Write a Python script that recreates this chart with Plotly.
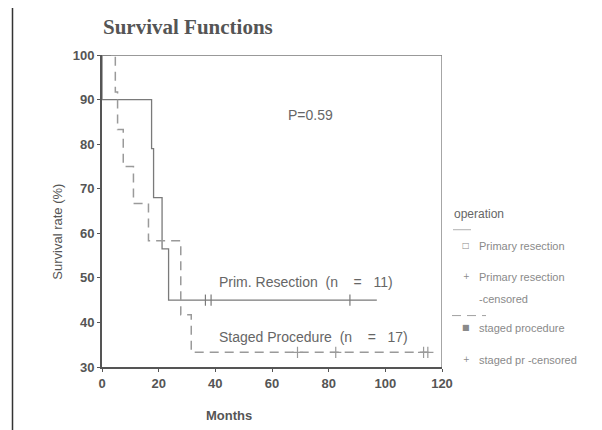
import plotly.graph_objects as go

# ---------------- data ----------------
prim_times = [0, 0, 17.5, 18.2, 21.2, 23.5, 97]
prim_surv = [100, 90, 79, 68, 56.5, 45, 45]
prim_cens_times = [36.5, 38.5, 87.5]
prim_cens_surv = [45, 45, 45]

staged_times = [0, 4.7, 5.5, 7.5, 11.1, 16.4, 27.8, 31.5, 115]
staged_surv = [100, 91.7, 83.3, 75, 66.7, 58.3, 41.7, 33.3, 33.3]
staged_cens_times = [69, 82.5, 113.5, 115]
staged_cens_surv = [33.3, 33.3, 33.3, 33.3]

x_ticks = [0, 20, 40, 60, 80, 100, 120]
y_ticks = [30, 40, 50, 60, 70, 80, 90, 100]

NB = "\u00a0"
title_text = "Survival Functions"
p_text = "P=0.59"
prim_label = "Prim. Resection" + NB * 2 + "(n" + NB * 4 + "=" + NB * 3 + "11)"
staged_label = "Staged Procedure" + NB * 2 + "(n" + NB * 4 + "=" + NB * 3 + "17)"
legend_title = "operation"
legend_items = ["Primary resection", "Primary resection", "-censored",
                "staged procedure", "staged pr -censored"]

# ---------------- layout geometry ----------------
# the page adds an 8px body margin, so the figure is drawn 8px smaller
OFF = 8
W, H = 602 - OFF, 430 - OFF
L = 102 - OFF
T = 55 - OFF
R = W - (442 - OFF)
B = H - (367.5 - OFF)
PW, PH = W - L - R, H - T - B


def px(x):
    return (x - OFF - L) / PW


def py(y):
    return 1 - (y - OFF - T) / PH


SOLID = "#7a7a7a"
DASHED = "#9a9a9a"
TXT = "#555555"
LEG = "#8a8a8a"

fig = go.Figure()
fig.add_trace(go.Scatter(x=prim_times, y=prim_surv, mode="lines",
                         line=dict(color=SOLID, width=1.3, shape="hv"),
                         showlegend=False, hoverinfo="skip"))
fig.add_trace(go.Scatter(x=prim_cens_times, y=prim_cens_surv, mode="markers",
                         marker=dict(symbol="line-ns", size=8,
                                     line=dict(color=SOLID, width=1.2)),
                         showlegend=False, hoverinfo="skip"))
fig.add_trace(go.Scatter(x=staged_times, y=staged_surv, mode="lines",
                         line=dict(color=DASHED, width=1.5, shape="hv",
                                   dash="9px,6px"),
                         showlegend=False, hoverinfo="skip"))
fig.add_trace(go.Scatter(x=staged_cens_times, y=staged_cens_surv, mode="markers",
                         marker=dict(symbol="cross-thin", size=8,
                                     line=dict(color=DASHED, width=1.2)),
                         showlegend=False, hoverinfo="skip"))

shapes = [
    # top and right border of plot frame
    dict(type="line", xref="x", yref="y", x0=0, x1=120, y0=100, y1=100,
         line=dict(color="#777777", width=1.5)),
    dict(type="line", xref="x", yref="y", x0=120, x1=120, y0=30, y1=100,
         line=dict(color="#888888", width=1.5)),
    # outer page frame pieces
    dict(type="line", xref="paper", yref="paper", x0=px(12.5), x1=px(12.5),
         y0=py(6), y1=py(431), line=dict(color="#333333", width=1.5)),
    dict(type="line", xref="paper", yref="paper", x0=px(12), x1=px(16),
         y0=py(6), y1=py(6), line=dict(color="#333333", width=1.5)),
    dict(type="line", xref="paper", yref="paper", x0=px(601), x1=px(601),
         y0=py(6), y1=py(60), line=dict(color="#333333", width=1.5)),
    dict(type="line", xref="paper", yref="paper", x0=px(596), x1=px(602),
         y0=py(6), y1=py(6), line=dict(color="#333333", width=1.5)),
    # legend line samples
    dict(type="line", xref="paper", yref="paper", x0=px(453), x1=px(471),
         y0=py(230), y1=py(230), line=dict(color="#b0b0b0", width=1)),
    dict(type="line", xref="paper", yref="paper", x0=px(452), x1=px(486),
         y0=py(316), y1=py(316), line=dict(color="#a0a0a0", width=1, dash="9px,6px")),
]

ann = []
ann.append(dict(text="<b>" + title_text + "</b>", x=px(101), y=py(27), xref="paper", yref="paper",
                xanchor="left", yanchor="middle", showarrow=False,
                font=dict(family="Liberation Serif", size=21, color=TXT)))
ann.append(dict(text=p_text, x=px(286), y=py(115), xref="paper", yref="paper",
                xanchor="left", yanchor="middle", showarrow=False,
                font=dict(family="Liberation Sans", size=14, color="#666666")))
ann.append(dict(text=prim_label, x=px(217), y=py(282), xref="paper", yref="paper",
                xanchor="left", yanchor="middle", showarrow=False,
                font=dict(family="Liberation Sans", size=14, color="#666666")))
ann.append(dict(text=staged_label, x=px(217), y=py(337), xref="paper", yref="paper",
                xanchor="left", yanchor="middle", showarrow=False,
                font=dict(family="Liberation Sans", size=14, color="#666666")))
ann.append(dict(text="Survival rate (%)", x=px(58), y=py(232), xref="paper", yref="paper",
                xanchor="center", yanchor="middle", showarrow=False, textangle=-90,
                font=dict(family="Liberation Sans", size=13, color=TXT)))
ann.append(dict(text="<b>Months</b>", x=px(229), y=py(416), xref="paper", yref="paper",
                xanchor="center", yanchor="middle", showarrow=False,
                font=dict(family="Liberation Sans", size=13, color=TXT)))
# legend texts
ann.append(dict(text=legend_title, x=px(452), y=py(214), xref="paper", yref="paper",
                xanchor="left", yanchor="middle", showarrow=False,
                font=dict(family="Liberation Sans", size=12, color="#666666")))
leg_rows = [(246, "□", legend_items[0]), (277, "+", legend_items[1]),
            (299, "", legend_items[2]), (328, "■", legend_items[3]),
            (360, "+", legend_items[4])]
for yy, sym, txt in leg_rows:
    if sym:
        ann.append(dict(text=sym, x=px(466), y=py(yy), xref="paper", yref="paper",
                        xanchor="center", yanchor="middle", showarrow=False,
                        font=dict(family="DejaVu Sans", size=8, color=LEG)))
    ann.append(dict(text=txt, x=px(477), y=py(yy), xref="paper", yref="paper",
                    xanchor="left", yanchor="middle", showarrow=False,
                    font=dict(family="Liberation Sans", size=11, color=LEG)))

fig.update_layout(
    width=W, height=H,
    margin=dict(l=L, r=R, t=T, b=B, pad=0),
    paper_bgcolor="white", plot_bgcolor="white",
    shapes=shapes, annotations=ann,
    xaxis=dict(range=[0, 120], tickvals=x_ticks, ticktext=[f"<b>{v}</b>" for v in x_ticks],
               showgrid=False, zeroline=False, showline=True, linecolor="#555555",
               linewidth=2, ticks="outside", ticklen=3, tickcolor="#555555",
               tickfont=dict(family="Liberation Sans", size=13, color=TXT)),
    yaxis=dict(range=[30, 100], tickvals=y_ticks, ticktext=[f"<b>{v}</b>" for v in y_ticks],
               showgrid=False, zeroline=False, showline=True, linecolor="#555555",
               linewidth=2, ticks="outside", ticklen=3, tickcolor="#555555",
               tickfont=dict(family="Liberation Sans", size=13, color=TXT)),
)

fig.write_html("out.html")
